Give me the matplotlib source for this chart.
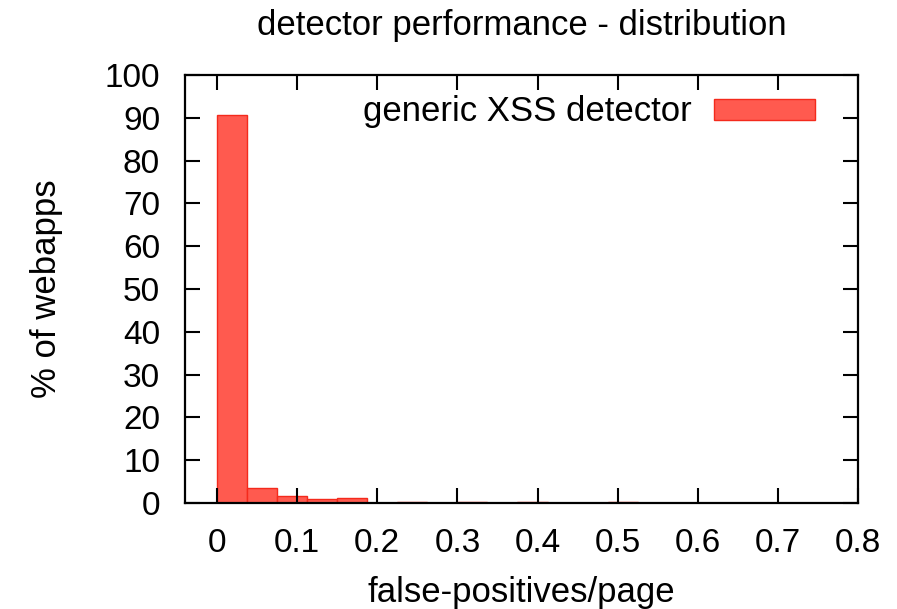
import matplotlib.pyplot as plt
import numpy as np

plt.rcParams['font.family'] = ['Liberation Sans', 'DejaVu Sans']

# histogram bins (left edges) and % of webapps per bin
bin_width = 0.0375
bin_left = [0.0, 0.0375, 0.075, 0.1125, 0.15, 0.1875, 0.225, 0.2625,
            0.3, 0.3375, 0.375, 0.4125, 0.45, 0.4875]
pct_webapps = [90.6, 3.6, 1.6, 0.9, 1.1, 0.0, 0.3, 0.0,
               0.2, 0.0, 0.2, 0.0, 0.0, 0.3]

x_ticks = [0, 0.1, 0.2, 0.3, 0.4, 0.5, 0.6, 0.7, 0.8]
x_tick_labels = ["0", "0.1", "0.2", "0.3", "0.4", "0.5", "0.6", "0.7", "0.8"]
y_ticks = np.arange(0, 101, 10)

fig = plt.figure(figsize=(8.97, 6.09), dpi=100)
ax = fig.add_axes([185 / 897, 1 - 503 / 609, 673 / 897, 428 / 609])

ax.bar(bin_left, pct_webapps, width=bin_width, align='edge',
       color='#ff5a4f', edgecolor='#f42a1c', linewidth=1.0,
       label="generic XSS detector")

ax.set_xlim(-0.04, 0.8)
ax.set_ylim(0, 100)
ax.set_xticks(x_ticks)
ax.set_xticklabels(x_tick_labels)
ax.set_yticks(y_ticks)

ax.tick_params(direction='in', length=11, width=1.5, top=True, right=True,
               labelsize=24, pad=18)
for spine in ax.spines.values():
    spine.set_linewidth(1.6)

ax.set_title("detector performance - distribution", fontsize=25, pad=29)
ax.set_xlabel("false-positives/page", fontsize=25, labelpad=12)
ax.set_ylabel("% of webapps", fontsize=25, labelpad=30)

ax.legend(loc='center right', bbox_to_anchor=(0.936, 0.9136), frameon=False,
          fontsize=25, markerfirst=False, handlelength=2.9, handleheight=0.55,
          handletextpad=0.65, borderpad=0, borderaxespad=0)

fig.savefig("out.png", dpi=100)
